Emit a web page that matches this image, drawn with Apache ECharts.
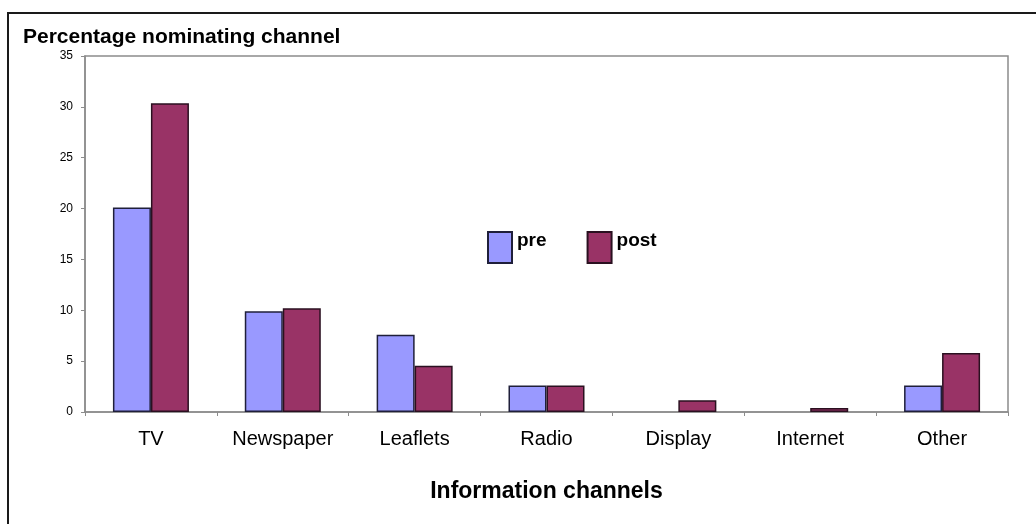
<!DOCTYPE html>
<html>
<head>
<meta charset="utf-8">
<script src="https://cdn.jsdelivr.net/npm/echarts@6/dist/echarts.min.js"></script>
<style>
  html, body { margin: 0; padding: 0; background: #fff; }
  #chart { width: 1036px; height: 524px; }
</style>
</head>
<body>
<div id="chart"></div>
<script>
// Share of respondents naming each information channel, before and after
const categories = ['TV', 'Newspaper', 'Leaflets', 'Radio', 'Display', 'Internet', 'Other'];
const preValues  = [20.1, 9.9, 7.6, 2.6, 0, 0, 2.6];
const postValues = [30.35, 10.2, 4.55, 2.6, 1.15, 0.4, 5.8];
const seriesNames = ['pre', 'post'];

const FONT = '"Liberation Sans", Arial, sans-serif';
const AXIS_GREY = '#8c8c8c';

// zero-height bars get no outline so they do not leave a stub on the axis
const toBarData = values => values.map(v => v === 0 ? { value: v, itemStyle: { borderWidth: 0 } } : v);

const chart = echarts.init(document.getElementById('chart'), null, { renderer: 'canvas' });

chart.setOption({
  backgroundColor: '#ffffff',
  animation: false,
  title: {
    text: 'Percentage nominating channel',
    left: 18,
    top: 22,
    textStyle: { fontFamily: FONT, fontSize: 21, fontWeight: 'bold', color: '#000' }
  },
  graphic: [{
    type: 'rect',
    shape: { x: 8, y: 13, width: 1200, height: 700 },
    style: { fill: 'none', stroke: '#1a1a1a', lineWidth: 2 },
    silent: true
  }],
  legend: {
    data: seriesNames,
    left: 487,
    top: 231,
    padding: 0,
    itemWidth: 24,
    itemHeight: 31,
    itemGap: 40,
    icon: 'rect',
    formatter: '{t|{name}}',
    textStyle: {
      rich: {
        t: {
          fontFamily: FONT, fontSize: 19, fontWeight: 'bold', color: '#000',
          padding: [0, 0, 14, 0]
        }
      }
    }
  },
  grid: {
    left: 85, right: 28, top: 56, bottom: 112,
    show: true,
    borderColor: AXIS_GREY,
    borderWidth: 1.5,
    containLabel: false
  },
  xAxis: {
    type: 'category',
    data: categories,
    name: 'Information channels',
    nameLocation: 'middle',
    nameGap: 68,
    nameTextStyle: { fontFamily: FONT, fontSize: 23, fontWeight: 'bold', color: '#000' },
    axisLine: { lineStyle: { color: AXIS_GREY, width: 1.5 } },
    axisTick: { show: true, alignWithLabel: false, length: 4, lineStyle: { color: AXIS_GREY } },
    axisLabel: { fontFamily: FONT, fontSize: 20, color: '#000', margin: 17 }
  },
  yAxis: {
    type: 'value',
    min: 0,
    max: 35,
    interval: 5,
    splitLine: { show: false },
    axisLine: { show: true, lineStyle: { color: AXIS_GREY, width: 1.5 } },
    axisTick: { show: true, length: 4, lineStyle: { color: AXIS_GREY } },
    axisLabel: { fontFamily: FONT, fontSize: 12, color: '#000', margin: 12 }
  },
  series: [
    {
      name: seriesNames[0],
      type: 'bar',
      data: toBarData(preValues),
      barWidth: 38,
      barGap: '0%',
      itemStyle: { color: '#9999ff', borderColor: '#1f1f3a', borderWidth: 1.5 }
    },
    {
      name: seriesNames[1],
      type: 'bar',
      data: toBarData(postValues),
      barWidth: 38,
      barGap: '0%',
      itemStyle: { color: '#993366', borderColor: '#2a1020', borderWidth: 1.5 }
    }
  ]
});
</script>
</body>
</html>
